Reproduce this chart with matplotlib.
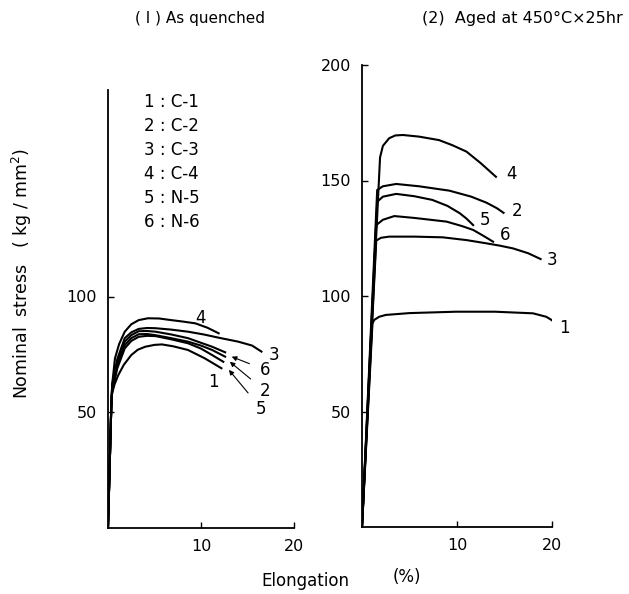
import matplotlib
matplotlib.use("Agg")
import matplotlib.pyplot as plt

# (1) As quenched : elongation (%) / nominal stress (kg/mm2)
q_x = {
    "1": [0, 0.35, 0.4, 0.7, 1.1, 1.7, 2.5, 3.2, 4.0, 5.0, 5.8, 7.0, 8.6, 10.4, 12.2],
    "2": [0, 0.35, 0.45, 1.0, 1.8, 2.5, 3.3, 4.2, 5.1, 6.8, 8.6, 10.0, 11.2, 12.6],
    "3": [0, 0.35, 0.45, 1.0, 1.8, 2.5, 3.3, 4.2, 5.1, 6.8, 8.6, 10.3, 11.9, 14.0, 15.5, 16.5],
    "4": [0, 0.35, 0.45, 0.75, 1.2, 1.8, 2.5, 3.3, 4.3, 5.5, 6.8, 8.0, 9.4, 10.7, 11.9],
    "5": [0, 0.35, 0.45, 1.0, 1.8, 2.5, 3.3, 4.2, 5.1, 6.8, 8.6, 10.0, 11.2, 12.4],
    "6": [0, 0.35, 0.45, 1.0, 1.8, 2.5, 3.3, 4.2, 5.1, 6.8, 8.6, 10.0, 11.2, 12.6],
}
q_y = {
    "1": [0, 52, 57.5, 62, 66, 70.5, 74.7, 77, 78.3, 79.1, 79.3, 78.5, 76.9, 73.3, 69],
    "2": [0, 52, 60, 70, 79, 82, 83.7, 83.8, 83.3, 82, 80.5, 78.8, 76.9, 74],
    "3": [0, 52, 62, 73, 82, 84.5, 86, 86.4, 86.3, 85.7, 84.8, 83.6, 82.2, 80.5, 78.8, 76.2],
    "4": [0, 52, 62, 73.3, 79.5, 84.8, 88, 89.8, 90.6, 90.5, 89.8, 89.2, 88.4, 86.5, 84.1],
    "5": [0, 52, 59, 69, 77.6, 80.8, 82.6, 83, 82.9, 81.5, 79.8, 77.5, 74.7, 71.8],
    "6": [0, 52, 61, 72, 80.5, 83.3, 85, 85.1, 84.8, 83.6, 82, 80, 78.3, 75.9],
}

# (2) Aged at 450C x 25hr
a_x = {
    "1": [0, 1.1, 1.27, 1.8, 2.5, 5.0, 9.9, 14.0, 18.0, 19.4, 20.0, 20.5],
    "2": [0, 1.6, 2.2, 3.6, 6.0, 9.2, 11.5, 13.1, 14.2, 14.9],
    "3": [0, 1.5, 2.0, 2.86, 5.5, 8.5, 11.0, 13.1, 14.5, 15.9, 17.5, 18.8],
    "4": [0, 1.9, 2.2, 2.86, 3.5, 4.3, 6.0, 8.1, 9.5, 11.0, 12.5, 14.1],
    "5": [0, 1.6, 2.2, 3.6, 5.5, 7.4, 9.0, 10.3, 11.0, 11.7],
    "6": [0, 1.5, 2.2, 3.4, 5.5, 8.9, 10.5, 11.7, 12.8, 13.8],
}
a_y = {
    "1": [0, 88, 89.6, 91, 91.8, 92.6, 93.2, 93.2, 92.5, 91, 89.5, 87],
    "2": [0, 145.9, 147.5, 148.5, 147.5, 145.6, 143, 140.4, 138, 136],
    "3": [0, 124, 125.2, 125.7, 125.7, 125.4, 124.2, 122.8, 121.8, 120.6, 118.5, 116],
    "4": [0, 160, 165, 168.3, 169.5, 169.7, 169, 167.5, 165.3, 162.5, 157.5, 151.6],
    "5": [0, 140.8, 143, 144.2, 143.2, 141.6, 139, 135.8, 133.5, 130.7],
    "6": [0, 130.7, 133, 134.6, 133.8, 132.2, 130.3, 128.6, 126, 123.5],
}

legend_lines = ["1 : C-1", "2 : C-2", "3 : C-3", "4 : C-4", "5 : N-5", "6 : N-6"]

# label positions
q_lab = {"1": (11.3, 63.2), "3": (17.8, 74.7), "4": (9.9, 90.6)}
q_arrow = {"6": ((16.9, 68.3), (13.3, 74.0)),
           "2": ((16.9, 59.2), (13.1, 71.8)),
           "5": ((16.5, 51.4), (13.0, 68.3))}
a_lab = {"4": (15.7, 153), "2": (16.3, 137), "5": (12.9, 133),
         "6": (15.1, 126.4), "3": (20.0, 115.6), "1": (21.3, 86)}

plt.rcParams["font.family"] = "DejaVu Sans"
fig = plt.figure(figsize=(6.29, 5.94), dpi=100)
ax1 = fig.add_axes([108 / 629, 1 - 528 / 594, 186 / 629, 438 / 594])
ax2 = fig.add_axes([362 / 629, 1 - 527 / 594, 190 / 629, 462 / 594])

for k in q_x:
    ax1.plot(q_x[k], q_y[k], color="black", lw=1.5)
for k in a_x:
    ax2.plot(a_x[k], a_y[k], color="black", lw=1.5)

for k, (x, y) in q_lab.items():
    ax1.text(x, y, k, fontsize=12, ha="center", va="center")
for k, (lab, tip) in q_arrow.items():
    ax1.annotate(k, xy=tip, xytext=lab, fontsize=12, ha="center", va="center",
                 arrowprops=dict(arrowstyle="-|>", lw=0.8, color="black",
                                 shrinkA=6, shrinkB=0, mutation_scale=7))
for k, (x, y) in a_lab.items():
    ax2.text(x, y, k, fontsize=12, ha="center", va="center")

for i, s in enumerate(legend_lines):
    ax1.text(3.9, 184 - i * 10.4, s, fontsize=12, ha="left", va="center")

ax1.set_xlim(0, 20)
ax1.set_ylim(0, 438 / 2.315)
ax2.set_xlim(0, 20)
ax2.set_ylim(0, 200)

for ax in (ax1, ax2):
    ax.spines["top"].set_visible(False)
    ax.spines["right"].set_visible(False)
    ax.spines["left"].set_linewidth(1.3)
    ax.spines["bottom"].set_linewidth(1.3)
    ax.set_xticks([10, 20])
    ax.set_xticklabels(["10", "20"])
    ax.tick_params(direction="in", length=4, width=1, labelsize=11.5, pad=8)
    ax.patch.set_alpha(0)

ax1.set_yticks([50, 100])
ax2.set_yticks([50, 100, 150, 200])

fig.text(200 / 629, 1 - 18 / 594, "( I ) As quenched", fontsize=11,
         ha="center", va="center")
fig.text(522 / 629, 1 - 18 / 594, "(2)  Aged at 450°C×25hr", fontsize=11.5,
         ha="center", va="center")
fig.text(22 / 629, 1 - 273 / 594, "Nominal  stress   ( kg / mm$^2$)",
         fontsize=12.5, rotation=90, ha="center", va="center")
fig.text(305 / 629, 1 - 581 / 594, "Elongation", fontsize=12,
         ha="center", va="center")
fig.text(407 / 629, 1 - 577 / 594, "(%)", fontsize=12,
         ha="center", va="center")

fig.savefig("out.png", dpi=100)
